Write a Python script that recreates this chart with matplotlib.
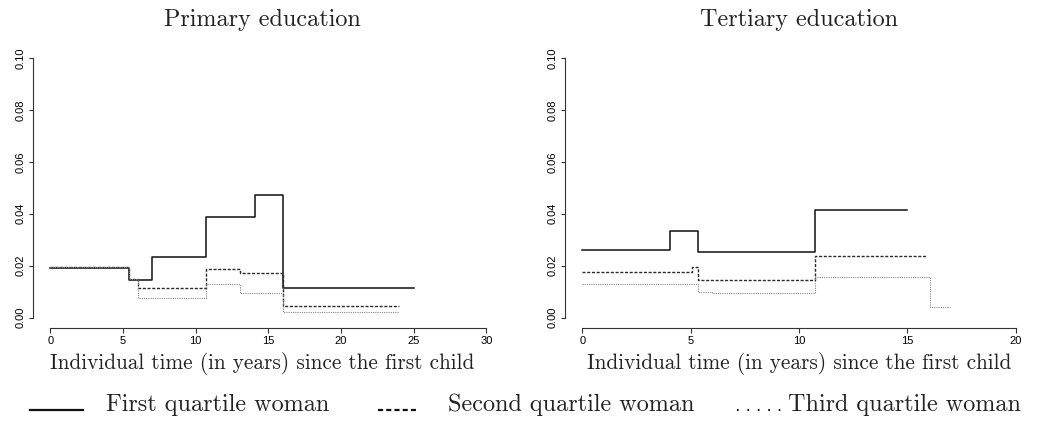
import matplotlib.pyplot as plt
from matplotlib.lines import Line2D
from matplotlib.legend_handler import HandlerLine2D

# --- Primary education: knots (years since first child) and levels of each step
prim_t1 = [0, 5.4, 7.0, 10.7, 14.1, 16.0, 25.0]
prim_q1 = [0.0192, 0.0144, 0.0235, 0.0387, 0.0472, 0.0116, 0.0116]
prim_t2 = [0, 5.4, 6.05, 10.7, 13.05, 16.0, 24.0]
prim_q2 = [0.0194, 0.0150, 0.01135, 0.0188, 0.0170, 0.0044, 0.0044]
prim_t3 = [0, 5.4, 6.05, 10.7, 13.05, 16.0, 24.0]
prim_q3 = [0.0196, 0.0147, 0.0077, 0.0128, 0.0095, 0.0023, 0.0023]

# --- Tertiary education
tert_t1 = [0, 4.05, 5.35, 10.72, 15.0]
tert_q1 = [0.0261, 0.0334, 0.0252, 0.0415, 0.0415]
tert_t2 = [0, 5.05, 5.35, 10.72, 15.9]
tert_q2 = [0.01755, 0.0194, 0.01445, 0.0239, 0.0239]
tert_t3 = [0, 5.35, 6.0, 10.72, 16.05, 16.95]
tert_q3 = [0.0130, 0.0099, 0.0093, 0.0155, 0.0039, 0.0039]

labels = ['First quartile woman', 'Second quartile woman', 'Third quartile woman']
yticks = [0.0, 0.02, 0.04, 0.06, 0.08, 0.10]

serif = 'cmr10'
tick_font = 'Liberation Sans'

styles = [dict(color='#111111', lw=1.1, ls='-'),
          dict(color='#2a2a2a', lw=1.0, ls=(0, (2.2, 1.2))),
          dict(color='#888888', lw=0.8, ls=(0, (1.0, 1.0)))]


class BaselineHandler(HandlerLine2D):
    # legend key drawn at the text baseline instead of mid-height
    def create_artists(self, legend, orig_handle, xdescent, ydescent,
                       width, height, fontsize, trans):
        arts = super().create_artists(legend, orig_handle, xdescent, ydescent,
                                      width, height, fontsize, trans)
        for a in arts:
            a.set_ydata([y - 0.3 * fontsize for y in a.get_ydata()])
        return arts


def draw_panel(ax, series, xmax, title, title_x):
    for (t, q), st in zip(series, styles):
        ax.step(t, q, where='post', **st)

    pad = 0.04 * xmax
    ax.set_xlim(-pad, xmax + pad)
    ax.set_ylim(-0.004, 0.104)

    for s in ['top', 'right']:
        ax.spines[s].set_visible(False)
    for s in ['left', 'bottom']:
        ax.spines[s].set_color('#333333')
        ax.spines[s].set_linewidth(0.8)
    ax.spines['left'].set_bounds(0, 0.1)
    ax.spines['bottom'].set_bounds(0, xmax)

    ax.set_yticks(yticks)
    ax.set_yticklabels([f'{v:.2f}' for v in yticks], rotation=90, va='center',
                       family=tick_font, fontsize=8)
    xt = list(range(0, xmax + 1, 5))
    ax.set_xticks(xt)
    ax.set_xticklabels([str(v) for v in xt], family=tick_font, fontsize=8)
    ax.tick_params(axis='y', direction='out', length=3, width=0.8,
                   color='#333333', pad=2)
    ax.tick_params(axis='x', direction='out', length=3.6, width=0.8,
                   color='#333333', pad=2.5)

    ax.set_title(title, family=serif, fontsize=17.4, x=title_x, pad=15.5,
                 color='#222222')
    ax.set_xlabel('Individual time (in years) since the first child',
                  family=serif, fontsize=15.3, color='#222222')
    ax.xaxis.set_label_coords(title_x, -0.085)


fig = plt.figure(figsize=(10.45, 4.24), dpi=100)
ax1 = fig.add_axes([0.0316, 0.2264, 0.4504, 0.6613])
ax2 = fig.add_axes([0.5407, 0.2264, 0.4478, 0.6613])

draw_panel(ax1, [(prim_t1, prim_q1), (prim_t2, prim_q2), (prim_t3, prim_q3)],
           30, 'Primary education', 0.4876)
draw_panel(ax2, [(tert_t1, tert_q1), (tert_t2, tert_q2), (tert_t3, tert_q3)],
           20, 'Tertiary education', 0.5)

# --- Legend below both panels, one entry per quartile
handles = [Line2D([], [], color='#111111', lw=1.6),
           Line2D([], [], color='#111111', lw=1.6, ls=(0, (2.3, 1.4))),
           Line2D([], [], color='#111111', lw=1.5, ls=(0, (0.8, 4.2)))]
starts = [30, 378, 737]
hlen = [2.2, 1.6, 1.9]
hpad = [0.95, 1.3, 0.2]
for h, lab, x0, hl, hp in zip(handles, labels, starts, hlen, hpad):
    fig.legend(handles=[h], labels=[lab], loc='center left',
               bbox_to_anchor=(x0 / 1045, 0.045), frameon=False,
               borderpad=0, borderaxespad=0, handlelength=hl,
               handletextpad=hp, prop=dict(family=serif, size=17.4),
               labelcolor='#222222',
               handler_map={Line2D: BaselineHandler()})

fig.savefig('out.png', dpi=100)
